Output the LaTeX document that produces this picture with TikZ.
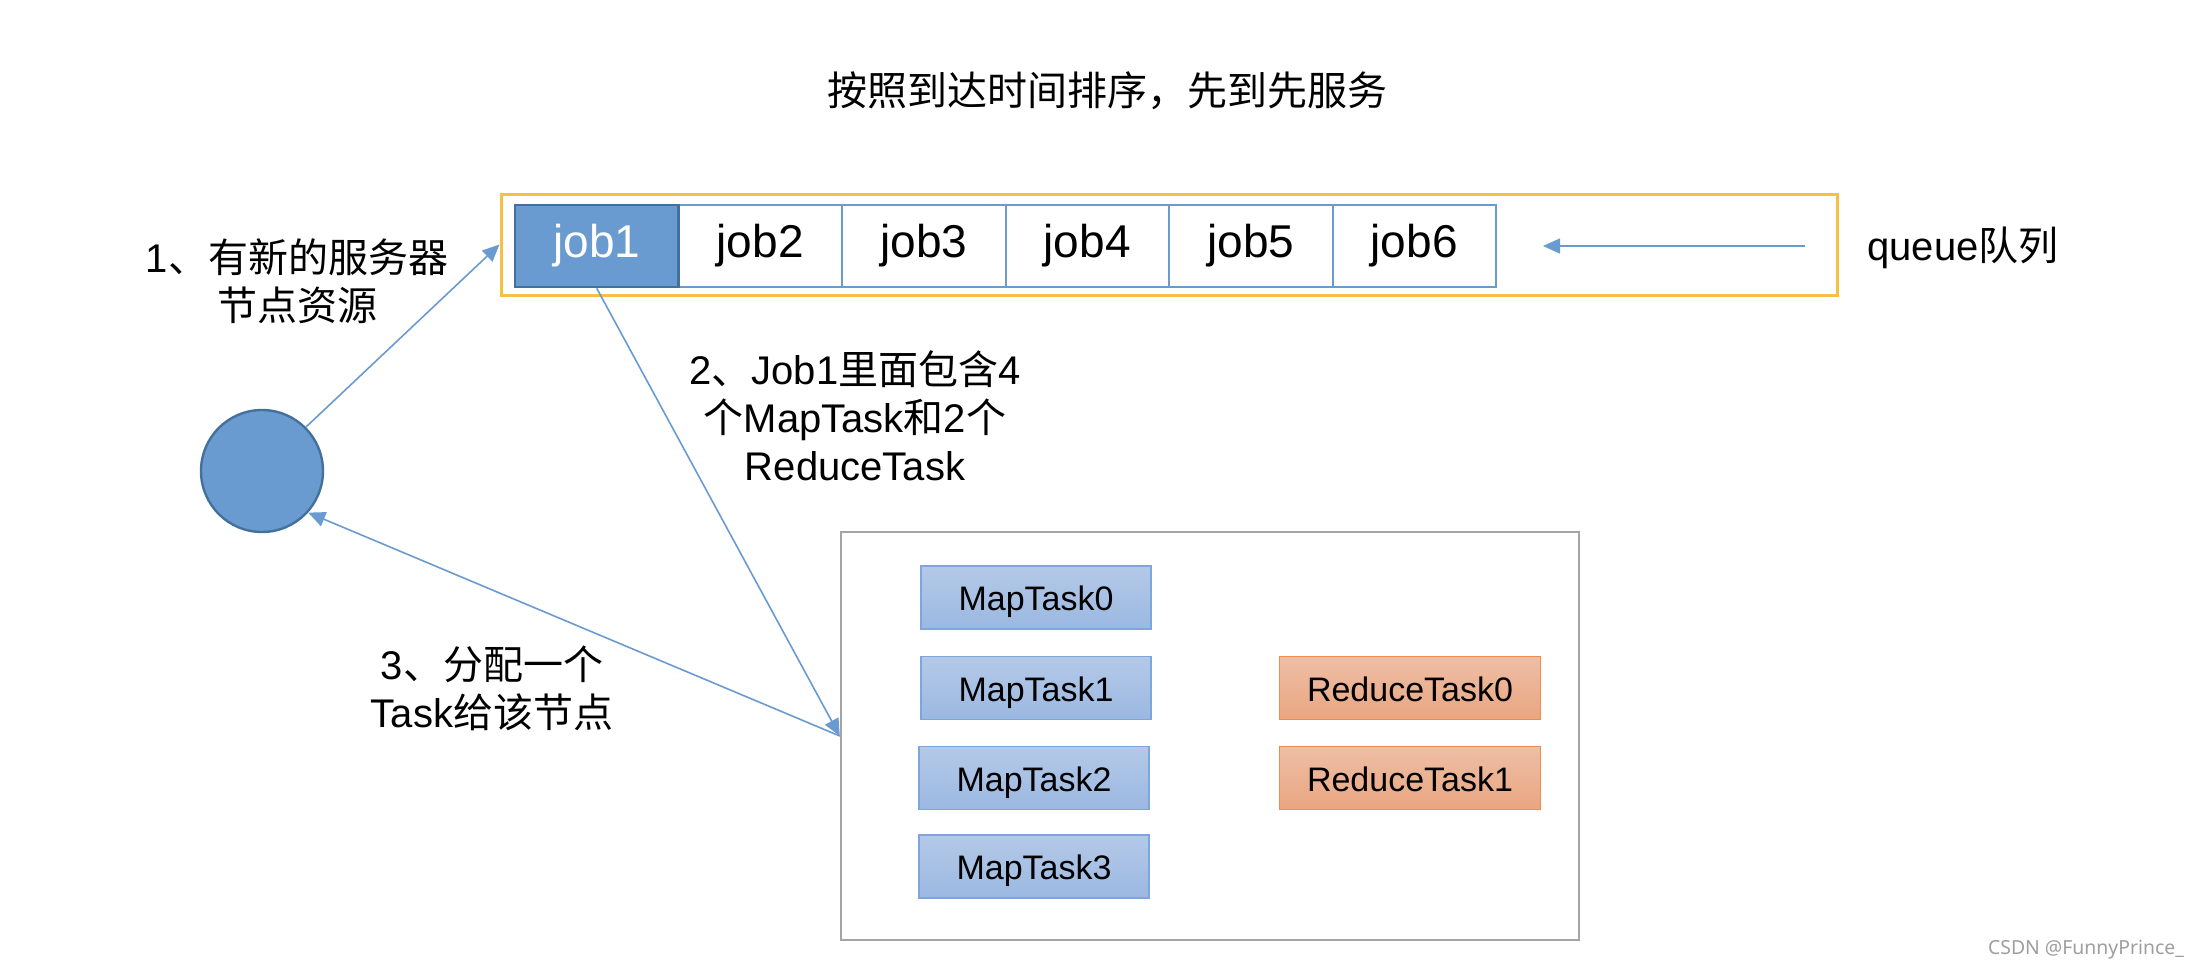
\documentclass[tikz,border=0pt]{standalone}
\usepackage{fontspec}
\setmainfont{Liberation Sans}
\newfontfamily\cjk{Noto Sans CJK SC}
\newfontfamily\wmfont{Noto Sans}
\usetikzlibrary{arrows.meta}
\definecolor{jobblue}{HTML}{6A9BD0}
\definecolor{jobedge}{HTML}{44719C}
\definecolor{queueyellow}{HTML}{F6BF45}
\definecolor{poolgray}{HTML}{A5A5A5}
\definecolor{maptop}{HTML}{B4C9E8}
\definecolor{mapbot}{HTML}{9BB8E1}
\definecolor{mapedge}{HTML}{7EA6DC}
\definecolor{redtop}{HTML}{EEBEA6}
\definecolor{redbot}{HTML}{E9A680}
\definecolor{rededge}{HTML}{EE8C50}
\newcommand{\zh}[1]{{\cjk #1}}

\begin{document}
\begin{tikzpicture}[x=0.5pt,y=-0.5pt,
  job/.style={draw=jobblue, line width=1pt, minimum width=81.75pt, minimum height=41pt, inner sep=0pt, text height=1.25em, text depth=0.1em, font=\fontsize{23}{28}\selectfont},
  mtask/.style={draw=mapedge, line width=0.8pt, top color=maptop, bottom color=mapbot, minimum width=115pt, minimum height=31.5pt, inner sep=0pt, text height=1.4em, text depth=0.1em, font=\fontsize{17}{20}\selectfont},
  rtask/.style={draw=rededge, line width=0.8pt, top color=redtop, bottom color=redbot, minimum width=130.5pt, minimum height=31.5pt, inner sep=0pt, text height=1.4em, text depth=0.1em, font=\fontsize{17}{20}\selectfont},
  lbl/.style={align=center, font=\fontsize{20}{24}\selectfont},
  arr/.style={draw=jobblue, line width=0.8pt, -{Triangle[length=8.5pt,width=7.5pt]}}]
\useasboundingbox (0,0) rectangle (2206,970);

\node[lbl] (title) at (1107,91) {\zh{按照到达时间排序，先到先服务}};

% queue
\node[draw=queueyellow, line width=1.5pt, minimum width=668pt, minimum height=50.5pt] (frame) at (1169,244.5) {};
\node[job] (job2) at (760.25,246) {job2};
\node[job] (job3) at (923.75,246) {job3};
\node[job] (job4) at (1087.25,246) {job4};
\node[job] (job5) at (1250.75,246) {job5};
\node[job] (job6) at (1414.25,246) {job6};
\node[job, draw=jobedge, line width=1.3pt, fill=jobblue, text=white] (job1) at (596.75,246) {job1};
\node[lbl] (qname) at (1963,248) {queue\zh{队列}};
\coordinate (qin) at (1805,246);
\draw[arr] (qin) -- (job6.east -| 1543,0);

% server node
\node[circle, draw=jobedge, line width=1.2pt, fill=jobblue, minimum size=61pt] (srv) at (262,471) {};
\node[lbl] (step1) at (297,281) {1\zh{、有新的服务器}\\\zh{节点资源}};
\node[lbl] (step2) at (855,416) {2\zh{、}Job1\zh{里面包含}4\\\zh{个}MapTask\zh{和}2\zh{个}\\ReduceTask};
\node[lbl] (step3) at (492,688) {3\zh{、分配一个}\\Task\zh{给该节点}};

% tasks
\node[draw=poolgray, line width=1.2pt, minimum width=369pt, minimum height=204pt] (pool) at (1210,736) {};
\node[mtask] (map0) at (1036,597.5) {MapTask0};
\node[mtask] (map1) at (1036,688) {MapTask1};
\node[mtask] (map2) at (1034,778) {MapTask2};
\node[mtask] (map3) at (1034,866.5) {MapTask3};
\node[rtask] (red0) at (1410,688) {ReduceTask0};
\node[rtask] (red1) at (1410,778) {ReduceTask1};

\draw[arr] (srv.45) -- (frame.west);
\draw[arr] (job1.south) -- (pool.west);
\draw[arr] (pool.west) -- (srv.-42);

\node[anchor=east, text=black!38, font=\wmfont\fontsize{9.7}{12}\selectfont] (mark) at (2191,950) {CSDN @FunnyPrince\_};
\end{tikzpicture}
\end{document}
